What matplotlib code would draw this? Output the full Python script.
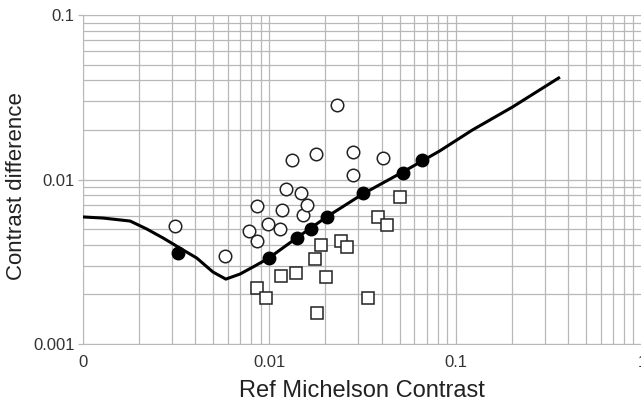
import numpy as np
import matplotlib
matplotlib.use("Agg")
import matplotlib.pyplot as plt

plt.rcParams['font.family'] = ['Liberation Sans', 'DejaVu Sans']

# open circles
open_x = [0.00311, 0.00577, 0.00777, 0.00857, 0.00857, 0.00982, 0.0114, 0.0117, 0.0123,
          0.0132, 0.0148, 0.0151, 0.0159, 0.0178, 0.0230, 0.0280, 0.0280, 0.0406]
open_y = [0.00522, 0.00343, 0.00486, 0.00423, 0.00690, 0.00536, 0.00500, 0.00653, 0.00875,
          0.0131, 0.00828, 0.00609, 0.00700, 0.0143, 0.0284, 0.0147, 0.0106, 0.0135]

# filled circles
fill_x = [0.00323, 0.00994, 0.0140, 0.0167, 0.0203, 0.0317, 0.0520, 0.0657]
fill_y = [0.00357, 0.00333, 0.00441, 0.00500, 0.00592, 0.00828, 0.01095, 0.0131]

# squares
sq_x = [0.00857, 0.00958, 0.0115, 0.0139, 0.0175, 0.0189, 0.0201, 0.0180, 0.0242,
        0.0260, 0.0337, 0.0382, 0.0427, 0.0501]
sq_y = [0.00219, 0.00190, 0.00259, 0.00270, 0.00329, 0.00400, 0.00255, 0.00154, 0.00423,
        0.00389, 0.00190, 0.00592, 0.00529, 0.00783]

# threshold curve
curve_x = [0.001, 0.00128, 0.00179, 0.00220, 0.00269, 0.00331, 0.00408, 0.00498, 0.00584,
           0.00695, 0.00836, 0.00994, 0.0140, 0.0203, 0.0317, 0.0520, 0.0820, 0.123,
           0.202, 0.357]
curve_y = [0.00592, 0.00583, 0.00559, 0.00500, 0.00441, 0.00383, 0.00333, 0.00274, 0.00248,
           0.00266, 0.00298, 0.00333, 0.00441, 0.00592, 0.00816, 0.0111, 0.0149, 0.0200,
           0.0276, 0.0414]

x_ticks = [0.001, 0.01, 0.1, 1]
x_labels = ["0", "0.01", "0.1", "1"]
y_ticks = [0.001, 0.01, 0.1]
y_labels = ["0.001", "0.01", "0.1"]

fig = plt.figure(figsize=(6.41, 4.04), dpi=100)
ax = fig.add_axes([83 / 641, 60 / 404, 559 / 641, 329 / 404])

ax.set_xscale('log')
ax.set_yscale('log')
ax.set_xlim(0.001, 1)
ax.set_ylim(0.001, 0.1)

grid_col = '#b8b8b8'
ax.grid(True, which='both', color=grid_col, linewidth=0.9)
ax.set_axisbelow(True)
for side in ['left', 'top', 'bottom']:
    ax.spines[side].set_color(grid_col)
ax.spines['right'].set_visible(False)

ax.plot(curve_x, curve_y, color='black', linewidth=2.2, zorder=3)
ax.plot(open_x, open_y, linestyle='none', marker='o', markersize=9,
        markerfacecolor='white', markeredgecolor='#222222', markeredgewidth=1.1, zorder=4)
ax.plot(sq_x, sq_y, linestyle='none', marker='s', markersize=8.5,
        markerfacecolor='white', markeredgecolor='#222222', markeredgewidth=1.1, zorder=4)
ax.plot(fill_x, fill_y, linestyle='none', marker='o', markersize=9,
        markerfacecolor='black', markeredgecolor='black', zorder=5)

ax.set_xticks(x_ticks)
ax.set_xticklabels(x_labels)
ax.set_yticks(y_ticks)
ax.set_yticklabels(y_labels)
ax.tick_params(which='minor', length=0)
ax.tick_params(axis='x', which='major', length=0, pad=8, labelsize=12, labelcolor='#333333')
ax.tick_params(axis='y', which='major', length=3.6, width=0.9, color=grid_col, pad=2.5,
               labelsize=12, labelcolor='#333333')

fig.text(362 / 641, 7 / 404, 'Ref Michelson Contrast', fontsize=17, color='#222222',
         ha='center', va='baseline')
fig.text(17 / 641, 1 - 186 / 404, 'Contrast difference', fontsize=16, color='#222222',
         ha='center', va='center', rotation=90)

fig.savefig('out.png', dpi=100)
